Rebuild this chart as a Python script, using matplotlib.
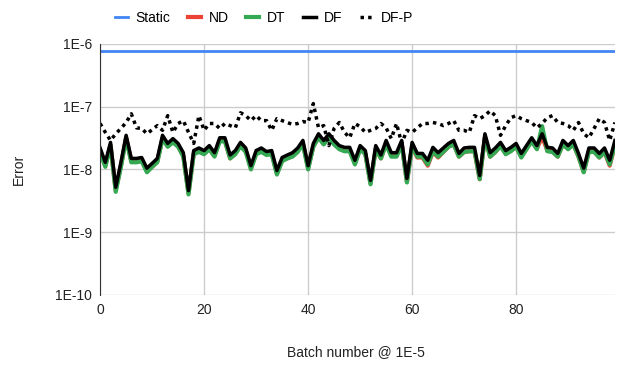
import numpy as np
import matplotlib
matplotlib.use("Agg")
import matplotlib.pyplot as plt
from matplotlib.ticker import FixedLocator, NullLocator

plt.rcParams['font.family'] = ['Liberation Sans', 'DejaVu Sans']

batch = np.arange(100)

static_err = 7.7e-7

df = np.array([2.2, 1.3, 2.7, 0.52, 1.3, 3.5, 1.5, 1.5, 1.55, 1.05, 1.25, 1.5, 3.5, 2.6, 3.1, 2.6, 1.85, 0.46, 2.0, 2.2,
               2.0, 2.4, 1.85, 3.2, 3.2, 1.7, 2.0, 2.7, 2.2, 1.15, 2.0, 2.2, 1.93, 2.0, 0.96, 1.55, 1.7, 1.85, 2.2, 2.9,
               1.15, 2.6, 3.7, 2.9, 3.7, 2.9, 2.4, 2.25, 2.25, 1.4, 2.4, 2.0, 0.67, 2.4, 1.7, 2.9, 1.85, 1.85, 2.9, 0.72,
               2.7, 1.8, 1.8, 1.4, 2.25, 1.85, 2.2, 2.6, 2.9, 1.8, 2.2, 2.25, 2.25, 0.8, 3.7, 1.85, 2.2, 2.7, 2.0, 2.25,
               2.6, 1.8, 2.4, 3.2, 2.4, 3.7, 2.25, 2.2, 1.8, 2.9, 2.4, 2.9, 1.8, 1.05, 2.2, 2.2, 1.8, 2.2, 1.4, 2.9]) * 1e-8

dt = np.array([1.9, 1.1, 2.4, 0.44, 1.1, 3.1, 1.3, 1.3, 1.35, 0.9, 1.1, 1.3, 3.1, 2.3, 2.7, 2.3, 1.6, 0.4, 1.75, 1.9,
               1.75, 2.1, 1.6, 2.8, 2.8, 1.5, 1.75, 2.35, 1.9, 1.0, 1.75, 1.9, 1.7, 1.75, 0.83, 1.35, 1.5, 1.6, 1.9, 2.5,
               1.0, 2.3, 3.2, 2.5, 3.2, 2.5, 2.1, 1.95, 1.95, 1.2, 2.1, 1.75, 0.58, 2.1, 1.5, 2.5, 1.6, 1.6, 2.5, 0.62,
               2.35, 1.6, 1.6, 1.2, 1.95, 1.6, 1.9, 2.3, 2.5, 1.6, 1.9, 1.95, 1.95, 0.7, 3.2, 1.6, 1.9, 2.35, 1.75, 1.95,
               2.3, 1.55, 2.1, 2.8, 2.1, 4.9, 1.95, 1.9, 1.6, 2.5, 2.1, 2.5, 1.6, 0.9, 1.9, 1.9, 1.55, 1.9, 1.2, 2.5]) * 1e-8

nd = np.array([2.0, 1.15, 2.45, 0.47, 1.15, 3.2, 1.35, 1.35, 1.4, 0.95, 1.1, 1.35, 3.15, 2.35, 2.8, 2.35, 1.65, 0.42, 1.8, 2.0,
               1.8, 2.15, 1.65, 2.9, 2.9, 1.5, 1.8, 2.4, 2.0, 1.05, 1.8, 2.0, 1.75, 1.8, 0.86, 1.4, 1.5, 1.65, 2.0, 2.6,
               1.05, 2.35, 3.3, 2.6, 3.3, 2.6, 2.15, 2.0, 2.0, 1.25, 2.15, 1.8, 0.6, 2.15, 1.5, 2.6, 1.65, 1.65, 2.6, 0.64,
               2.3, 1.55, 1.55, 1.15, 1.9, 1.55, 1.9, 2.3, 2.55, 1.6, 1.9, 1.95, 1.95, 0.7, 3.3, 1.6, 1.9, 2.4, 1.8, 2.0,
               2.3, 1.6, 2.15, 2.85, 2.15, 3.3, 2.0, 1.95, 1.6, 2.55, 2.15, 2.55, 1.6, 0.92, 1.95, 1.95, 1.55, 1.9, 1.15, 2.45]) * 1e-8

dfp = np.array([5.4, 3.9, 2.9, 3.7, 4.5, 5.6, 7.7, 4.6, 4.5, 3.7, 4.3, 5.0, 4.2, 7.2, 3.9, 5.4, 6.0, 3.9, 2.6, 7.2,
                4.2, 5.4, 5.4, 4.5, 5.4, 5.0, 4.6, 8.0, 7.2, 6.0, 7.2, 6.0, 6.0, 4.2, 6.45, 6.0, 5.6, 5.2, 5.4, 5.8,
                5.6, 11.2, 4.6, 5.0, 2.4, 4.5, 5.6, 3.9, 3.2, 5.4, 4.8, 3.9, 4.2, 4.5, 5.4, 4.6, 3.1, 5.4, 2.6, 4.2,
                3.9, 4.6, 5.4, 5.4, 5.6, 5.4, 5.0, 5.4, 6.0, 4.2, 4.2, 3.9, 7.2, 6.45, 7.2, 8.6, 7.2, 3.5, 5.0, 6.7,
                7.2, 6.45, 6.0, 5.6, 4.6, 5.4, 6.7, 7.2, 5.6, 5.4, 5.0, 4.2, 5.6, 3.7, 3.2, 4.5, 6.45, 5.6, 2.9, 5.6]) * 1e-8

fig = plt.figure(figsize=(6.18, 3.66), dpi=100)
ax = fig.add_axes([0.162, 0.194, 0.833, 0.686])

ax.plot(batch, [static_err] * len(batch), color='#4285F4', lw=2, label='Static')
ax.plot(batch, nd, color='#EA4335', lw=3, label='ND')
ax.plot(batch, dt, color='#34A853', lw=3, label='DT')
ax.plot(batch, df, color='black', lw=2.5, label='DF')
ax.plot(batch, dfp, color='black', lw=2.5, linestyle=(0, (1, 1.2)), label='DF-P')

ax.set_yscale('log')
ax.set_ylim(1e-10, 1e-6)
ax.set_xlim(0, 99)
yt = [1e-10, 1e-9, 1e-8, 1e-7, 1e-6]
ax.yaxis.set_major_locator(FixedLocator(yt))
ax.yaxis.set_minor_locator(NullLocator())
ax.set_yticklabels(['1E-10', '1E-9', '1E-8', '1E-7', '1E-6'])
ax.set_xticks([0, 20, 40, 60, 80])
ax.tick_params(length=0, labelsize=10, colors='#222222', pad=6)
ax.grid(True, color='#cccccc', lw=1)
ax.set_axisbelow(True)
for s in ['top', 'right']:
    ax.spines[s].set_visible(False)
ax.spines['bottom'].set_visible(False)
ax.spines['left'].set_color('#333333')

ax.set_xlabel('Batch number @ 1E-5', fontsize=10, color='#222222')
ax.xaxis.set_label_coords(0.497, -0.2)
ax.set_ylabel('Error', fontsize=10, color='#222222')
ax.yaxis.set_label_coords(-0.145, 0.5)

fig.legend(loc='upper center', bbox_to_anchor=(0.427, 1.005), ncol=5, frameon=False,
           fontsize=10, handlelength=0.95, columnspacing=1.25, handletextpad=0.55)

fig.savefig('out.png', dpi=100)
